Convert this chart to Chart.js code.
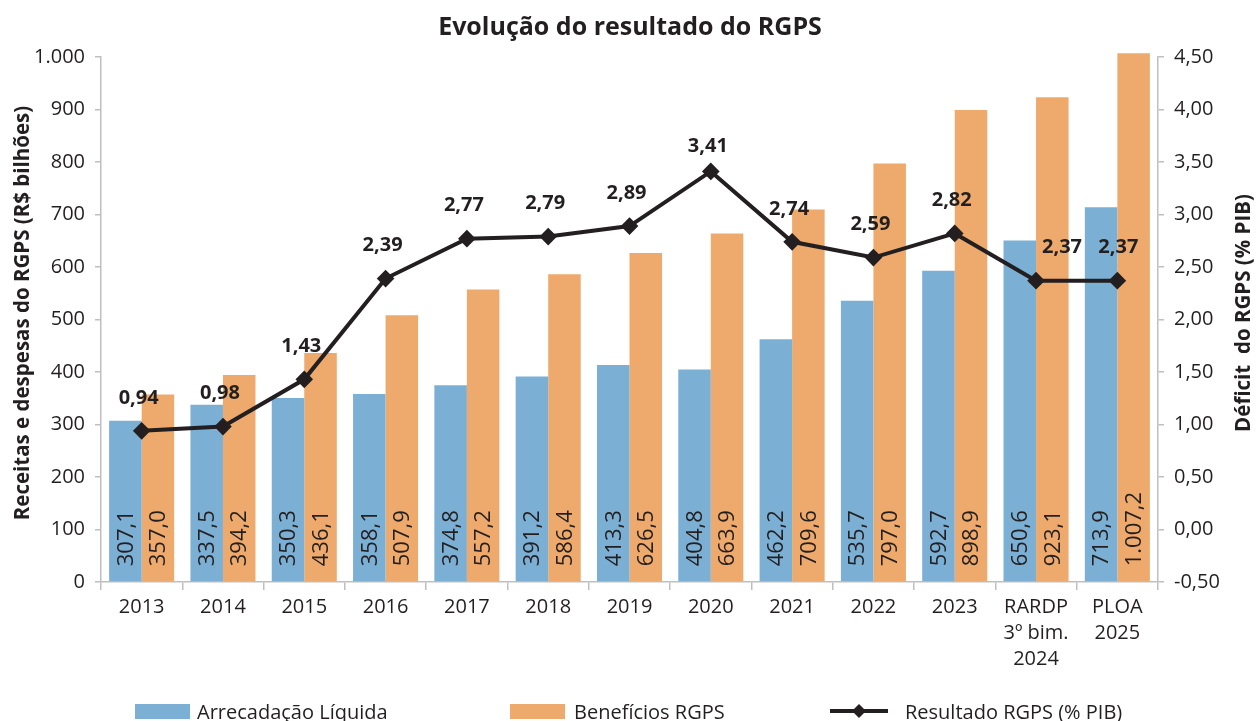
<!DOCTYPE html>
<html>
<head>
<meta charset="utf-8">
<script src="https://cdn.jsdelivr.net/npm/chart.js@4/dist/chart.umd.min.js"></script>
<style>
html,body{margin:0;padding:0;background:#fff;}
#wrap{width:1257px;height:721px;position:relative;}
</style>
</head>
<body>
<div id="wrap"><canvas id="c" width="1257" height="721"></canvas></div>
<script>
const categories = ['2013','2014','2015','2016','2017','2018','2019','2020','2021','2022','2023',['RARDP','3º bim.','2024'],['PLOA','2025']];
const arrecadacao = [307.1,337.5,350.3,358.1,374.8,391.2,413.3,404.8,462.2,535.7,592.7,650.6,713.9];
const beneficios = [357.0,394.2,436.1,507.9,557.2,586.4,626.5,663.9,709.6,797.0,898.9,923.1,1007.2];
const resultado = [0.94,0.98,1.43,2.39,2.77,2.79,2.89,3.41,2.74,2.59,2.82,2.37,2.37];
const leftTicks = [0,100,200,300,400,500,600,700,800,900,1000];
const rightTicks = [-0.5,0,0.5,1,1.5,2,2.5,3,3.5,4,4.5];
const seriesNames = ['Arrecadação Líquida','Benefícios RGPS','Resultado RGPS (% PIB)'];
const chartTitle = 'Evolução do resultado do RGPS';
const leftTitle = 'Receitas e despesas do RGPS (R$ bilhões)';
const rightTitle = 'Déficit  do RGPS (% PIB)';

const TXT = '#231f20';
const BLUE = '#7bafd4';
const ORANGE = '#eeaa6c';
const FONT = '"Open Sans",sans-serif';

function fmt(v, dec){
  const s = v.toFixed(dec);
  let [i, d] = s.split('.');
  const neg = i.startsWith('-');
  if (neg) i = i.slice(1);
  i = i.replace(/\B(?=(\d{3})+(?!\d))/g, '.');
  return (neg ? '-' : '') + i + (d !== undefined ? ',' + d : '');
}

const decor = {
  id: 'decor',
  afterDatasetsDraw(chart){
    const ctx = chart.ctx;
    // bar value labels, rotated, anchored at bar base
    [0,1].forEach(di => {
      const meta = chart.getDatasetMeta(di);
      meta.data.forEach((el, i) => {
        const v = chart.data.datasets[di].data[i];
        ctx.save();
        ctx.translate(el.x, el.base - 15);
        ctx.rotate(-Math.PI/2);
        ctx.font = '22px ' + FONT;
        ctx.fillStyle = TXT;
        ctx.textAlign = 'left';
        ctx.textBaseline = 'middle';
        ctx.fillText(fmt(v,1), 0, 1);
        ctx.restore();
      });
    });
    // line value labels
    const lm = chart.getDatasetMeta(2);
    lm.data.forEach((el, i) => {
      const v = chart.data.datasets[2].data[i];
      let dy = 33, dx = -3;
      if (i === 7) dy = 25;
      if (i === 11) dx = 26;
      if (i === 12) dx = 1;
      ctx.save();
      ctx.font = 'bold 20px ' + FONT;
      ctx.fillStyle = TXT;
      ctx.textAlign = 'center';
      ctx.textBaseline = 'middle';
      ctx.fillText(fmt(v,2), el.x + dx, el.y - dy);
      ctx.restore();
    });
  },
  afterDraw(chart){
    const ctx = chart.ctx;
    ctx.save();
    ctx.fillStyle = TXT;
    ctx.textAlign = 'center';
    ctx.textBaseline = 'middle';
    // chart title
    ctx.font = 'bold 25px ' + FONT;
    ctx.fillText(chartTitle, 630, 28);
    // left axis title
    ctx.save();
    ctx.translate(23, 313);
    ctx.rotate(-Math.PI/2);
    ctx.font = 'bold 20.5px ' + FONT;
    ctx.fillText(leftTitle, 0, 0);
    ctx.restore();
    // right axis title
    ctx.save();
    ctx.translate(1244, 313);
    ctx.rotate(-Math.PI/2);
    ctx.font = 'bold 20.5px ' + FONT;
    ctx.fillText(rightTitle, 0, 0);
    ctx.restore();
    // legend
    ctx.font = '20px ' + FONT;
    ctx.textAlign = 'left';
    ctx.textBaseline = 'alphabetic';
    ctx.fillStyle = BLUE;
    ctx.fillRect(135, 704, 55, 15);
    ctx.fillStyle = TXT;
    ctx.fillText(seriesNames[0], 197, 719);
    ctx.fillStyle = ORANGE;
    ctx.fillRect(510, 704, 55, 15);
    ctx.fillStyle = TXT;
    ctx.fillText(seriesNames[1], 574, 719);
    ctx.strokeStyle = TXT;
    ctx.lineWidth = 4;
    ctx.beginPath(); ctx.moveTo(830, 711); ctx.lineTo(888, 711); ctx.stroke();
    ctx.beginPath();
    ctx.moveTo(859, 704); ctx.lineTo(866, 711); ctx.lineTo(859, 718); ctx.lineTo(852, 711); ctx.closePath();
    ctx.fill();
    ctx.fillText(seriesNames[2], 905, 719);
    ctx.restore();
  }
};

new Chart(document.getElementById('c'), {
  data: {
    labels: categories,
    datasets: [
      { type:'bar', label: seriesNames[0], data: arrecadacao, backgroundColor: BLUE, yAxisID:'y', order:2,
        barPercentage:1.0, categoryPercentage:0.8, clip:false },
      { type:'bar', label: seriesNames[1], data: beneficios, backgroundColor: ORANGE, yAxisID:'y', order:2,
        barPercentage:1.0, categoryPercentage:0.8, clip:false },
      { type:'line', label: seriesNames[2], data: resultado, yAxisID:'y2', order:1,
        borderColor: TXT, backgroundColor: TXT, borderWidth:4, pointStyle:'rectRot', pointRadius:6,
        pointBackgroundColor: TXT, pointBorderColor: TXT, tension:0, clip:false }
    ]
  },
  options: {
    responsive:false,
    animation:false,
    devicePixelRatio:1,
    layout:{ padding:{ top:57, left:0, right:0, bottom:0 } },
    plugins:{ legend:{display:false}, title:{display:false}, tooltip:{enabled:false} },
    scales:{
      x:{
        offset:true,
        grid:{ display:true, offset:true, drawOnChartArea:false, color:'#bfbfbf', tickLength:8, lineWidth:1.5 },
        border:{ color:'#bfbfbf', width:1.5 },
        ticks:{ color:TXT, font:{ family:FONT, size:20, lineHeight:1.3 }, padding:4, maxRotation:0, autoSkip:false },
        afterFit(s){ s.height = 139; }
      },
      y:{
        position:'left', min:0, max:1000,
        afterBuildTicks(s){ s.ticks = leftTicks.map(v=>({value:v})); },
        grid:{ display:true, drawOnChartArea:false, color:'#bfbfbf', tickLength:6, lineWidth:1.5 },
        border:{ color:'#bfbfbf', width:1.5 },
        ticks:{ color:TXT, font:{ family:FONT, size:20 }, padding:10, callback:(v)=>fmt(v,0) },
        afterFit(s){ s.width = 101; }
      },
      y2:{
        position:'right', min:-0.5, max:4.5,
        afterBuildTicks(s){ s.ticks = rightTicks.map(v=>({value:v})); },
        grid:{ display:true, drawOnChartArea:false, color:'#bfbfbf', tickLength:6, lineWidth:1.5 },
        border:{ color:'#bfbfbf', width:1.5 },
        ticks:{ color:TXT, font:{ family:FONT, size:20 }, padding:10, callback:(v)=>fmt(v,2) },
        afterFit(s){ s.width = 99; }
      }
    }
  },
  plugins:[decor]
});
</script>
</body>
</html>
